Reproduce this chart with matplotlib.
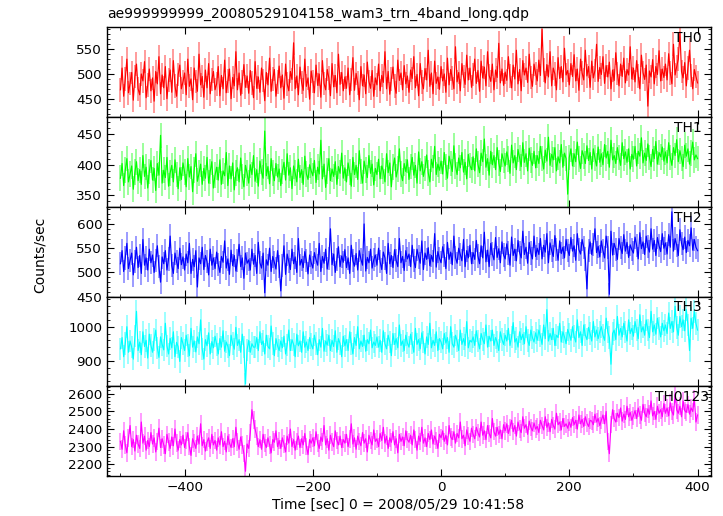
import numpy as np
import matplotlib
matplotlib.use('Agg')
import matplotlib.pyplot as plt
from matplotlib.ticker import MultipleLocator

plt.rcParams['font.family'] = ['DejaVu Sans']

# Temps (centre des bins de 2.5 s) relatif à 2008/05/29 10:41:58
t = np.arange(-500, 400.1, 2.5)

th0 = [468, 512, 455, 490, 530, 462, 481, 503, 447, 495, 520, 470, 458, 500, 486, 525, 452, 478, 510, 466,
       492, 445, 505, 480, 535, 460, 498, 472, 515, 450, 488, 508, 463, 527, 476, 455, 499, 518, 470, 484,
       502, 458, 530, 475, 490, 448, 512, 485, 465, 540, 478, 495, 453, 508, 472, 521, 460, 489, 505, 468,
       480, 515, 456, 497, 470, 528, 462, 486, 510, 450, 493, 476, 545, 468, 502, 457, 484, 519, 473, 496,
       461, 507, 482, 452, 525, 471, 494, 463, 512, 487, 446, 503, 478, 532, 465, 490, 509, 455, 484, 516,
       472, 498, 451, 520, 480, 466, 505, 489, 563, 470, 496, 458, 514, 483, 467, 530, 475, 492, 449, 506,
       485, 462, 518, 477, 500, 453, 527, 481, 468, 509, 492, 456, 521, 474, 497, 462, 540, 479, 503, 466,
       494, 471, 512, 458, 489, 533, 467, 501, 482, 448, 515, 476, 498, 460, 524, 485, 471, 507, 455, 492,
       478, 520, 466, 497, 483, 545, 470, 505, 459, 490, 514, 476, 461, 528, 487, 502, 468, 517, 480, 496,
       463, 508, 491, 535, 472, 499, 456, 521, 484, 470, 511, 488, 548, 475, 502, 460, 526, 481, 494, 469,
       515, 486, 500, 463, 532, 478, 509, 492, 470, 555, 484, 503, 466, 521, 495, 479, 538, 488, 512, 473,
       499, 530, 481, 507, 465, 526, 492, 514, 476, 545, 497, 485, 520, 468, 508, 493, 562, 482, 510, 477,
       504, 487, 535, 496, 472, 518, 490, 548, 480, 509, 466, 527, 498, 512, 483, 540, 493, 475, 520, 501,
       486, 528, 497, 590, 508, 482, 519, 494, 545, 476, 512, 500, 468, 533, 491, 515, 484, 552, 498, 507,
       478, 521, 495, 539, 486, 510, 467, 530, 502, 488, 548, 496, 515, 473, 526, 492, 507, 560, 485, 513,
       499, 535, 481, 517, 494, 524, 470, 508, 487, 543, 501, 476, 520, 495, 532, 482, 509, 498, 555, 490,
       512, 484, 527, 496, 470, 538, 503, 489, 518, 435, 506, 494, 529, 480, 515, 499, 547, 486, 510, 493,
       520, 488, 541, 502, 480, 560, 498, 515, 530, 585, 505, 492, 523, 476, 512, 548, 497, 470, 509, 495,
       482]

th1 = [378, 402, 366, 391, 410, 372, 385, 398, 360, 388, 405, 374, 392, 368, 415, 381, 396, 362, 389, 407,
       375, 394, 358, 402, 383, 448, 370, 391, 379, 412, 365, 387, 399, 372, 408, 384, 361, 395, 376, 403,
       388, 364, 410, 380, 397, 356, 392, 418, 373, 386, 401, 368, 394, 378, 412, 370, 389, 405, 362, 383,
       396, 375, 408, 368, 390, 382, 420, 366, 398, 377, 403, 359, 387, 395, 372, 411, 381, 364, 399, 386,
       370, 400, 384, 415, 373, 392, 365, 406, 388, 378, 455, 382, 397, 369, 410, 386, 374, 402, 380, 393,
       366, 389, 404, 375, 418, 383, 395, 361, 398, 387, 372, 409, 379, 392, 368, 414, 385, 376, 400, 390,
       382, 407, 371, 396, 385, 440, 377, 401, 363, 390, 410, 374, 393, 381, 405, 368, 397, 386, 419, 378,
       395, 372, 403, 388, 365, 412, 384, 399, 376, 423, 389, 370, 406, 392, 379, 415, 386, 401, 367, 394,
       384, 409, 377, 398, 390, 372, 418, 387, 403, 364, 396, 411, 380, 393, 426, 385, 374, 402, 389, 408,
       376, 397, 412, 383, 399, 370, 421, 390, 405, 381, 394, 416, 387, 372, 409, 395, 430, 384, 401, 391,
       406, 385, 420, 396, 378, 414, 402, 389, 431, 398, 384, 411, 395, 420, 388, 404, 377, 417, 399, 392,
       413, 390, 426, 401, 387, 419, 405, 442, 396, 410, 383, 422, 400, 415, 392, 428, 403, 389, 418, 407,
       398, 421, 409, 386, 432, 403, 415, 392, 425, 411, 397, 436, 404, 418, 390, 427, 408, 399, 422, 395,
       415, 402, 430, 410, 393, 424, 406, 445, 399, 417, 408, 428, 390, 413, 403, 433, 396, 419, 410, 352,
       412, 426, 398, 418, 405, 437, 409, 394, 423, 414, 402, 431, 407, 420, 393, 426, 411, 398, 429, 404,
       418, 400, 433, 411, 422, 396, 440, 408, 415, 402, 428, 412, 399, 436, 410, 421, 404, 426, 393, 417,
       409, 430, 398, 422, 414, 444, 403, 419, 407, 434, 412, 397, 425, 410, 438, 401, 420, 413, 429, 406,
       421, 403, 436, 412, 399, 428, 415, 441, 405, 423, 410, 397, 432, 414, 426, 401, 419, 437, 408, 416,
       410]

th2 = [518, 545, 502, 530, 560, 508, 525, 540, 495, 522, 552, 510, 535, 498, 568, 515, 530, 505, 548, 520,
       536, 500, 524, 555, 512, 480, 532, 518, 545, 505, 528, 575, 514, 498, 540, 522, 508, 550, 516, 532,
       505, 538, 520, 560, 498, 527, 512, 545, 470, 530, 518, 552, 506, 535, 522, 495, 548, 515, 530, 508,
       542, 516, 500, 533, 521, 565, 509, 528, 496, 546, 514, 535, 503, 525, 558, 512, 530, 488, 540, 519,
       526, 505, 548, 517, 535, 498, 562, 520, 509, 540, 458, 526, 515, 550, 502, 533, 521, 507, 545, 512,
       462, 514, 555, 496, 538, 522, 506, 548, 518, 532, 500, 570, 515, 527, 510, 543, 524, 497, 536, 520,
       509, 541, 526, 515, 560, 502, 533, 519, 548, 507, 529, 590, 516, 538, 500, 527, 553, 512, 534, 521,
       547, 510, 530, 498, 556, 524, 513, 539, 505, 545, 527, 515, 600, 503, 531, 520, 548, 509, 526, 536,
       515, 550, 522, 506, 542, 530, 498, 560, 518, 535, 510, 547, 525, 512, 570, 520, 533, 504, 545, 528,
       538, 512, 556, 524, 510, 548, 532, 519, 565, 506, 540, 527, 551, 514, 535, 522, 580, 511, 543, 529,
       520, 553, 535, 508, 562, 527, 542, 516, 575, 531, 519, 550, 537, 524, 568, 512, 545, 530, 556, 518,
       541, 527, 566, 534, 518, 555, 530, 583, 522, 546, 512, 560, 538, 526, 572, 531, 549, 520, 563, 536,
       528, 559, 540, 515, 573, 535, 548, 524, 566, 541, 530, 585, 537, 552, 519, 562, 540, 528, 575, 533,
       550, 537, 570, 528, 556, 542, 580, 520, 561, 545, 533, 576, 548, 525, 565, 539, 552, 530, 568, 546,
       535, 572, 544, 555, 525, 580, 547, 538, 568, 552, 528, 466, 545, 563, 537, 558, 590, 541, 554, 532,
       565, 545, 530, 575, 552, 455, 585, 536, 560, 548, 527, 570, 551, 539, 578, 544, 562, 531, 557, 547,
       540, 573, 556, 528, 582, 549, 563, 537, 575, 553, 542, 590, 548, 566, 535, 572, 555, 543, 580, 550,
       561, 538, 578, 552, 625, 544, 570, 556, 535, 588, 560, 547, 573, 541, 566, 555, 592, 546, 568, 552,
       545]

th3 = [935, 968, 912, 950, 1000, 925, 958, 940, 905, 972, 1045, 930, 955, 918, 985, 942, 960, 908, 978, 945,
       925, 962, 990, 938, 910, 970, 948, 932, 1010, 944, 920, 966, 938, 985, 912, 954, 941, 898, 968, 950,
       930, 975, 945, 915, 995, 940, 958, 926, 970, 950, 1020, 935, 905, 962, 944, 982, 920, 956, 938, 972,
       948, 920, 965, 940, 988, 928, 955, 942, 915, 975, 950, 934, 998, 945, 962, 925, 978, 940, 832, 932,
       960, 925, 950, 940, 940, 968, 930, 985, 948, 958, 920, 975, 942, 935, 1002, 950, 915, 965, 944, 930,
       958, 938, 972, 920, 946, 990, 930, 962, 948, 912, 978, 944, 958, 925, 985, 940, 955, 930, 968, 948,
       935, 975, 950, 918, 962, 940, 995, 928, 958, 946, 975, 930, 960, 942, 988, 925, 965, 950, 912, 972,
       944, 962, 930, 985, 950, 920, 968, 945, 1000, 935, 958, 942, 975, 928, 962, 950, 990, 938, 955, 945,
       970, 940, 960, 925, 988, 950, 935, 975, 955, 915, 980, 948, 965, 938, 1005, 945, 958, 930, 975, 952,
       940, 978, 952, 925, 995, 948, 962, 935, 982, 955, 920, 970, 948, 1010, 938, 960, 945, 985, 930, 965,
       955, 935, 980, 952, 968, 925, 1000, 950, 940, 975, 958, 930, 990, 948, 965, 945, 1015, 938, 960, 955,
       970, 945, 988, 958, 935, 980, 962, 950, 1005, 940, 972, 958, 990, 945, 968, 955, 930, 985, 962, 948,
       975, 958, 995, 945, 970, 1012, 955, 965, 940, 985, 962, 978, 950, 1000, 960, 945, 990, 968, 955, 982,
       960, 990, 972, 948, 1005, 965, 1050, 958, 980, 962, 995, 945, 975, 968, 1010, 955, 985, 970, 950, 992,
       978, 960, 1000, 972, 955, 1020, 968, 985, 945, 1005, 975, 962, 998, 980, 958, 1015, 970, 990, 965, 985,
       1000, 975, 960, 1025, 985, 968, 890, 980, 990, 962, 1030, 975, 995, 970, 1010, 985, 958, 1020, 980, 995,
       972, 1015, 990, 965, 1035, 985, 1000, 975, 1020, 990, 968, 1045, 985, 1005, 978, 1025, 995, 970, 1010, 988,
       1005, 980, 1040, 995, 1015, 985, 1060, 998, 975, 1030, 1000, 1020, 988, 1050, 1005, 930, 1025, 995, 1045, 1010,
       990]

th0123 = [2330, 2285, 2390, 2310, 2265, 2350, 2420, 2300, 2340, 2275, 2365, 2315, 2290, 2440, 2320, 2360, 2280, 2335, 2300, 2380,
          2315, 2350, 2270, 2330, 2405, 2295, 2345, 2310, 2260, 2370, 2325, 2290, 2355, 2305, 2400, 2320, 2280, 2340, 2310, 2365,
          2295, 2335, 2380, 2300, 2250, 2345, 2320, 2290, 2360, 2315, 2430, 2305, 2340, 2275, 2325, 2350, 2290, 2370, 2310, 2335,
          2280, 2350, 2310, 2385, 2300, 2330, 2270, 2360, 2320, 2295, 2345, 2300, 2410, 2325, 2285, 2355, 2310, 2260, 2160, 2315,
          2290, 2380, 2510, 2450, 2400, 2360, 2300, 2340, 2285, 2370, 2320, 2295, 2350, 2310, 2265, 2340, 2325, 2390, 2300, 2335,
          2290, 2350, 2315, 2270, 2360, 2320, 2400, 2300, 2340, 2280, 2330, 2360, 2295, 2345, 2310, 2375, 2300, 2255, 2340, 2320,
          2350, 2305, 2385, 2320, 2290, 2355, 2330, 2420, 2310, 2345, 2280, 2365, 2325, 2300, 2390, 2335, 2310, 2360, 2295, 2340,
          2320, 2370, 2300, 2345, 2430, 2315, 2350, 2285, 2360, 2330, 2305, 2380, 2320, 2345, 2270, 2365, 2335, 2310, 2395, 2330,
          2345, 2300, 2375, 2335, 2410, 2320, 2360, 2290, 2350, 2325, 2385, 2310, 2345, 2265, 2370, 2330, 2355, 2305, 2390, 2340,
          2325, 2365, 2310, 2395, 2340, 2280, 2360, 2330, 2410, 2320, 2350, 2300, 2375, 2340, 2395, 2315, 2360, 2335, 2290, 2370,
          2350, 2390, 2330, 2365, 2310, 2420, 2355, 2340, 2385, 2320, 2375, 2350, 2440, 2345, 2365, 2305, 2395, 2360, 2330, 2405,
          2370, 2345, 2410, 2380, 2355, 2440, 2365, 2390, 2340, 2420, 2375, 2350, 2460, 2385, 2360, 2410, 2370, 2395, 2345, 2425,
          2390, 2430, 2375, 2410, 2450, 2385, 2420, 2360, 2440, 2400, 2380, 2470, 2405, 2425, 2370, 2445, 2410, 2390, 2435, 2400,
          2415, 2380, 2450, 2420, 2395, 2470, 2410, 2435, 2385, 2455, 2420, 2400, 2490, 2425, 2440, 2395, 2460, 2415, 2430, 2405,
          2440, 2410, 2465, 2425, 2450, 2400, 2480, 2430, 2455, 2415, 2470, 2435, 2415, 2450, 2445, 2425, 2485, 2440, 2460, 2420,
          2450, 2480, 2430, 2500, 2330, 2260, 2425, 2510, 2460, 2440, 2490, 2465, 2520, 2445, 2485, 2455, 2530, 2470, 2495, 2450,
          2475, 2505, 2460, 2520, 2480, 2450, 2540, 2490, 2470, 2515, 2485, 2560, 2475, 2500, 2455, 2530, 2490, 2510, 2470, 2545,
          2490, 2520, 2475, 2550, 2500, 2480, 2600, 2510, 2490, 2530, 2470, 2560, 2505, 2495, 2540, 2485, 2520, 2500, 2575, 2440,
          2480]

bandes = ['TH0', 'TH1', 'TH2', 'TH3', 'TH0123']
series = [th0, th1, th2, th3, th0123]
erreurs = [24, 21, 24, 33, 50]
couleurs = ['#ff0000', '#00ff00', '#0000ff', '#00ffff', '#ff00ff']
ylims = [(413, 595), (331, 478), (450, 635), (826, 1088), (2133, 2645)]
ymaj = [50, 50, 50, 100, 100]
ymin = [10, 10, 10, 20, 20]

fig = plt.figure(figsize=(7.23, 5.16), dpi=100)

# bords des panneaux en pixels (haut -> bas)
bords = [27, 117, 207, 296.7, 386, 476]
gauche, droite = 107, 711

for i in range(5):
    h = (bords[i + 1] - bords[i]) / 516
    b = 1 - bords[i + 1] / 516
    ax = fig.add_axes([gauche / 723, b, (droite - gauche) / 723, h])
    y = np.array(series[i], dtype=float)
    # barres d'erreur claires + courbe
    ax.errorbar(t, y, yerr=erreurs[i], fmt='none', ecolor=couleurs[i], alpha=0.5, elinewidth=1.1)
    ax.plot(t, y, color=couleurs[i], lw=0.85)
    ax.set_xlim(-521, 421)
    ax.set_ylim(*ylims[i])
    ax.xaxis.set_major_locator(MultipleLocator(200))
    ax.xaxis.set_minor_locator(MultipleLocator(100))
    ax.yaxis.set_major_locator(MultipleLocator(ymaj[i]))
    ax.yaxis.set_minor_locator(MultipleLocator(ymin[i]))
    ax.tick_params(which='both', direction='in', top=True, right=True, labelsize=9.7, colors='black')
    ax.tick_params(which='major', length=5)
    ax.tick_params(which='minor', length=2.5)
    for s in ax.spines.values():
        s.set_linewidth(1.0)
    if i < 4:
        ax.tick_params(labelbottom=False)
    xt = 0.907 if bandes[i] == 'TH0123' else 0.939
    ax.text(xt, 0.88, bandes[i], transform=ax.transAxes, ha='left', va='center', fontsize=10)

fig.text(gauche / 723, 1 - 14 / 516, 'ae999999999_20080529104158_wam3_trn_4band_long.qdp',
         ha='left', va='center', fontsize=10)
fig.text(398 / 723, 1 - 505 / 516, 'Time [sec] 0 = 2008/05/29 10:41:58', ha='center', va='center', fontsize=10)
fig.text(40 / 723, 1 - 255 / 516, 'Counts/sec', rotation=90, ha='center', va='center', fontsize=10)

fig.savefig('out.png', dpi=100)
